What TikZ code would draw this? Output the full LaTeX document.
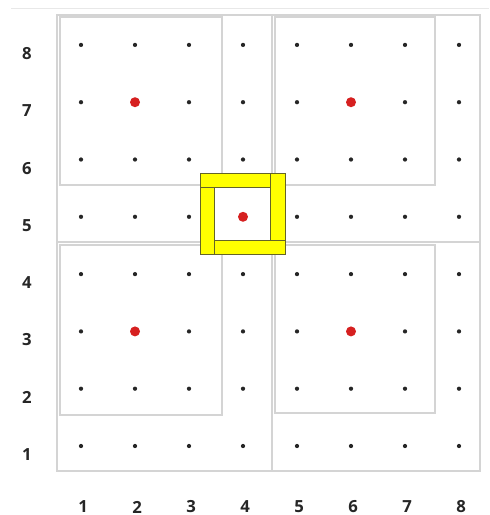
\documentclass[tikz,border=0pt]{standalone}
\usepackage{fontspec}
\setmainfont{Open Sans}
\definecolor{QtGray}{RGB}{212,212,212}
\definecolor{QtPale}{RGB}{232,232,232}
\definecolor{QtInk}{RGB}{38,38,38}
\definecolor{QtRed}{RGB}{214,32,32}
\definecolor{QtYellow}{RGB}{255,255,0}
\definecolor{QtOlive}{RGB}{100,100,40}
\tikzset{
  qt/frame/.style={draw=QtGray, line width=0.8pt},
  qt/rule/.style={draw=QtPale, line width=0.8pt},
  qt/dot/.style={circle, fill=QtInk, inner sep=0pt, minimum size=0.085cm},
  qt/centre/.style={circle, fill=QtRed, inner sep=0pt, minimum size=0.2cm},
  qt/bar/.style={fill=QtYellow, draw=QtOlive, line width=0.4pt},
  qt/label/.style={font=\fontsize{9.5}{11}\selectfont\bfseries, text=QtInk}
}

\begin{document}
\begin{tikzpicture}[x=1.08cm,y=1.146cm]
  \useasboundingbox (-0.5,-0.204) rectangle (8.556,8.784);
  \draw[qt/rule] (-0.296,8.639) -- (8.556,8.639);
  \draw[qt/frame] (0.556,0.564) rectangle (8.389,8.522);
  \draw[qt/frame] (4.537,0.564) -- (4.537,8.522);
  \draw[qt/frame] (0.556,4.560) -- (8.389,4.560);
  \draw[qt/frame] (0.611,5.555) rectangle (3.611,8.487);
  \draw[qt/frame] (4.593,5.555) rectangle (7.556,8.487);
  \draw[qt/frame] (0.611,1.541) rectangle (3.611,4.508);
  \draw[qt/frame] (4.593,1.576) rectangle (7.556,4.508);
  \foreach \c in {1,...,8}
    \foreach \r in {1,...,8}
      \node[qt/dot] (d\c\r) at (\c,\r) {};
  \fill[qt/bar] (3.217,5.515) rectangle (4.513,5.759);
  \fill[qt/bar] (4.513,4.595) rectangle (4.783,5.759);
  \fill[qt/bar] (3.476,4.346) rectangle (4.783,4.595);
  \fill[qt/bar] (3.217,4.346) rectangle (3.476,5.515);
  \node[qt/centre] (c27) at (2,7) {};
  \node[qt/centre] (c67) at (6,7) {};
  \node[qt/centre] (c45) at (4,5) {};
  \node[qt/centre] (c23) at (2,3) {};
  \node[qt/centre] (c63) at (6,3) {};
  \foreach \n in {1,...,8} {
    \node[qt/label] (row\n) at (0,\n-0.15) {\n};
    \node[qt/label] (col\n) at (\n+0.04,-0.065) {\n};
  }
\end{tikzpicture}
\end{document}
